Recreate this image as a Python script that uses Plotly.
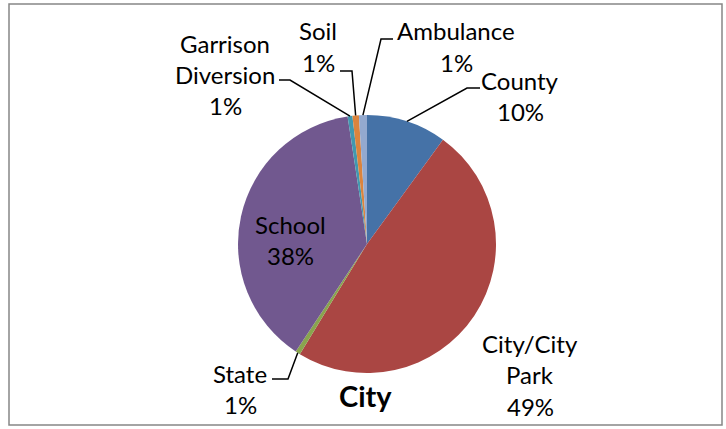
import math
import plotly.graph_objects as go

labels = ["County", "City/City Park", "State", "School", "Garrison Diversion", "Soil", "Ambulance"]
values = [10.0, 48.6, 0.6, 38.2, 0.6, 0.8, 1.0]
colors = ["#4572A7", "#AA4643", "#89A54E", "#71588F", "#4198AF", "#DB843D", "#93A9CF"]
title = "City"

W, H = 726, 429
CX, CY, R = 367, 244, 129
FONT = "Lato"
FS = 24

def px(x, y):
    return x / W, 1 - y / H

total = sum(values)
pcts = [f"{round(v / total * 100):.0f}%" for v in values]

fig = go.Figure(go.Pie(
    labels=labels, values=values, sort=False, direction="clockwise", rotation=0,
    marker=dict(colors=colors, line=dict(width=0)), textinfo="none",
    hoverinfo="label+percent", showlegend=False,
    domain=dict(x=[(CX - R) / W, (CX + R) / W], y=[(H - CY - R) / H, (H - CY + R) / H]),
))

# mid-angle edge points of each slice
edge = []
cum = 0
for v in values:
    mid = (cum + v / 2) / total * 2 * math.pi
    edge.append((CX + R * math.sin(mid), CY - R * math.cos(mid)))
    cum += v

# label layout: (text lines, text center x, first line y, elbow, end of horizontal)
layout_spec = {
    "County": (["County", None], 520, 80, (467, 88), (480, 88)),
    "City/City Park": (["City/City", "Park", None], 530, 343, None, None),
    "State": (["State", None], 240, 373, (288, 379), (272, 379)),
    "School": (["School", None], 290, 224, None, None),
    "Garrison Diversion": (["Garrison", "Diversion", None], 225, 43, (290, 80), (279, 80)),
    "Soil": (["Soil", None], 318, 31, (352, 71), (340, 71)),
    "Ambulance": (["Ambulance", None], 456, 31, (381, 39), (393, 39)),
}

annotations = []
shapes = []
for i, lab in enumerate(labels):
    lines, tx, ty, elbow, hend = layout_spec[lab]
    lines = [l if l is not None else pcts[i] for l in lines]
    for k, l in enumerate(lines):
        x, y = px(tx, ty + k * 31.5)
        annotations.append(dict(x=x, y=y, xref="paper", yref="paper", text=l, showarrow=False,
                                font=dict(family=FONT, size=FS, color="#000000"),
                                xanchor="center", yanchor="middle"))
    if elbow is not None:
        ex, ey = edge[i]
        p0 = px(ex, ey); p1 = px(*elbow); p2 = px(*hend)
        shapes.append(dict(type="path", xref="paper", yref="paper",
                           path=f"M {p0[0]},{p0[1]} L {p1[0]},{p1[1]} L {p2[0]},{p2[1]}",
                           line=dict(color="#000000", width=1.5)))

tx, ty = px(365, 395)
annotations.append(dict(x=tx, y=ty, xref="paper", yref="paper", text=f"<b>{title}</b>",
                        showarrow=False, font=dict(family=FONT, size=29, color="#000000"),
                        xanchor="center", yanchor="middle"))

b0 = px(9, 4); b1 = px(722, 425)
shapes.append(dict(type="rect", xref="paper", yref="paper", x0=b0[0], y0=b0[1], x1=b1[0], y1=b1[1],
                   line=dict(color="#868686", width=1.5), fillcolor="rgba(0,0,0,0)"))

fig.update_layout(width=W, height=H, margin=dict(l=0, r=0, t=0, b=0),
                  paper_bgcolor="white", plot_bgcolor="white",
                  annotations=annotations, shapes=shapes)
fig.write_html("out.html")
